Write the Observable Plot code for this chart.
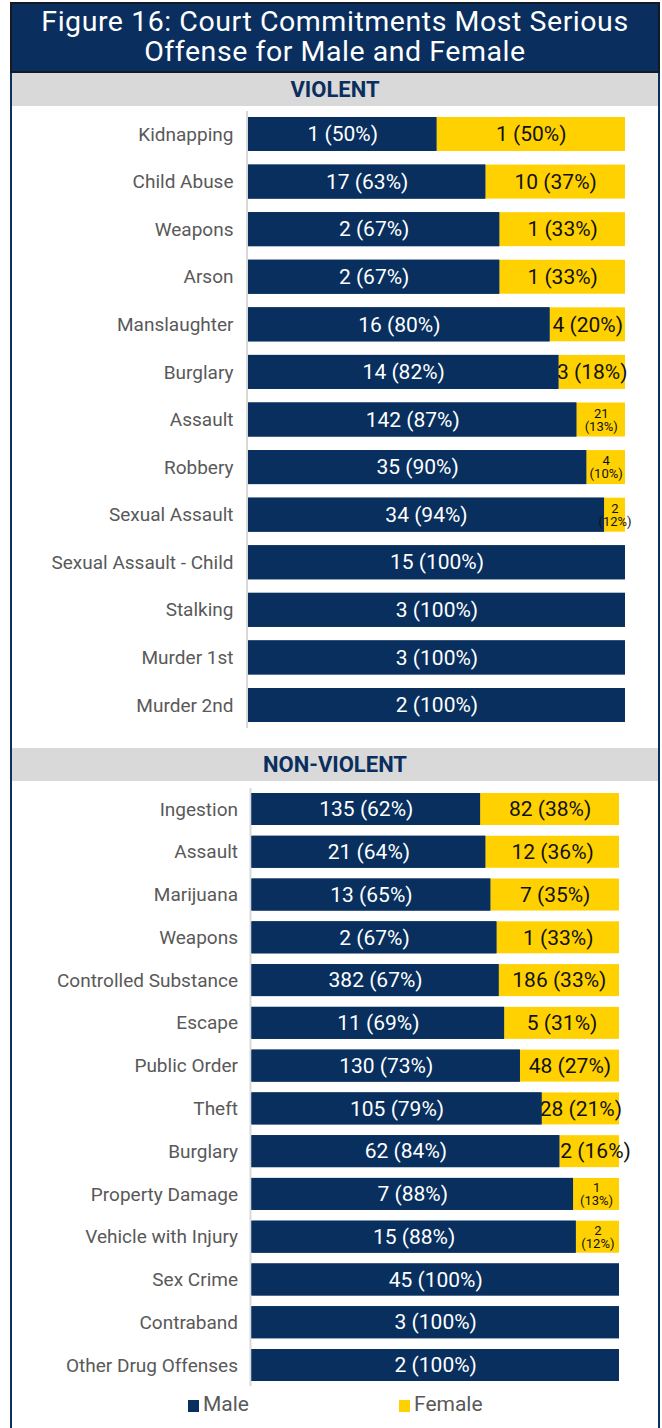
<!DOCTYPE html>
<html>
<head>
<meta charset="utf-8">
<script src="https://cdn.jsdelivr.net/npm/d3@7"></script>
<script src="https://cdn.jsdelivr.net/npm/@observablehq/plot@0.6"></script>
<style>
  html, body { margin: 0; padding: 0; background: #fff; font-family: Roboto, "Noto Sans", sans-serif; }
  #page { position: relative; width: 662px; height: 1428px; overflow: hidden; }
  #frame { position: absolute; left: 10px; top: 2px; width: 646px; height: 1440px;
           border-left: 2px solid #0b2f5e; border-right: 2px solid #0b2f5e; }
  #title { position: absolute; left: 10px; top: 2px; width: 650px; height: 71px; box-sizing: border-box;
           background: #0a2f5f; border: 2px solid #141a24; color: #fff; font-size: 28.5px; line-height: 30px;
           letter-spacing: 0.55px; text-align: center; padding-top: 3px; }
  .band { position: absolute; left: 12px; width: 646px; height: 33px; background: #d9d9d9;
          color: #0a2f5f; font-weight: bold; font-size: 22px; line-height: 33px; text-align: center; }
  .chart { position: absolute; left: 12px; }
  .chart svg { display: block; }
  #legend { position: absolute; left: 12px; top: 1391px; width: 646px; height: 26px; }
  .item { position: absolute; top: 0; height: 26px; line-height: 26px; font-size: 21px; color: #595959; }
  .sw { display: inline-block; width: 11px; height: 12px; margin-right: 4px; vertical-align: -1px; }
</style>
</head>
<body>
<div id="page">
  <div id="frame"></div>
  <div id="title">Figure 16: Court Commitments Most Serious<br>Offense for Male and Female</div>
  <div class="band" style="top:73px">VIOLENT</div>
  <div class="chart" id="violent" style="top:106px"></div>
  <div class="band" style="top:748px">NON-VIOLENT</div>
  <div class="chart" id="nonviolent" style="top:781px"></div>
  <div id="legend"></div>
</div>
<script>
// ---------- data ----------
const sexes = ["Male", "Female"];
const sexColors = ["#082f5e", "#ffd100"];

const violentOffenses = ["Kidnapping", "Child Abuse", "Weapons", "Arson", "Manslaughter", "Burglary", "Assault",
  "Robbery", "Sexual Assault", "Sexual Assault - Child", "Stalking", "Murder 1st", "Murder 2nd"];
const violentMale   = [1, 17, 2, 2, 16, 14, 142, 35, 34, 15, 3, 3, 2];
const violentFemale = [1, 10, 1, 1, 4, 3, 21, 4, 2, 0, 0, 0, 0];
const violentMalePct   = [50, 63, 67, 67, 80, 82, 87, 90, 94, 100, 100, 100, 100];
const violentFemalePct = [50, 37, 33, 33, 20, 18, 13, 10, 12, null, null, null, null];

const nonViolentOffenses = ["Ingestion", "Assault", "Marijuana", "Weapons", "Controlled Substance", "Escape",
  "Public Order", "Theft", "Burglary", "Property Damage", "Vehicle with Injury", "Sex Crime", "Contraband",
  "Other Drug Offenses"];
const nonViolentMale   = [135, 21, 13, 2, 382, 11, 130, 105, 62, 7, 15, 45, 3, 2];
const nonViolentFemale = [82, 12, 7, 1, 186, 5, 48, 28, 12, 1, 2, 0, 0, 0];
const nonViolentMalePct   = [62, 64, 65, 67, 67, 69, 73, 79, 84, 88, 88, 100, 100, 100];
const nonViolentFemalePct = [38, 36, 35, 33, 33, 31, 27, 21, 16, 13, 12, null, null, null];

// ---------- chart builder ----------
function buildChart(offenses, male, female, malePct, femalePct, cfg) {
  const rows = [];
  offenses.forEach((o, i) => {
    const total = male[i] + female[i];
    rows.push({offense: o, sex: "Male", count: male[i], pct: malePct[i], share: male[i] / total});
    rows.push({offense: o, sex: "Female", count: female[i], pct: femalePct[i], share: female[i] / total});
  });
  const st = (extra) => Plot.stackX({x: "count", y: "offense", z: "sex", order: sexes, offset: "normalize", ...extra});
  const isSmall = d => d.share < 0.14;
  return Plot.plot({
    width: 646,
    height: cfg.height,
    marginLeft: cfg.marginLeft,
    marginRight: cfg.marginRight,
    marginTop: cfg.marginTop,
    marginBottom: cfg.marginBottom,
    style: {fontFamily: "Roboto, sans-serif", color: "#595959", background: "transparent"},
    x: {domain: [0, 1], axis: null},
    y: {domain: offenses, paddingInner: cfg.pi, paddingOuter: cfg.po, round: false, label: null},
    color: {domain: sexes, range: sexColors},
    marks: [
      Plot.ruleX([0], {stroke: "#d9d9d9", strokeWidth: 2, dx: -1.5}),
      Plot.barX(rows, st({fill: "sex"})),
      Plot.text(rows, st({
        text: d => (d.sex === "Female" && d.count > 0 && !isSmall(d)) ? `${d.count} (${d.pct}%)` : "",
        fill: "#111", fontSize: 21
      })),
      Plot.barX(rows, st({fill: "sex", fillOpacity: d => d.sex === "Male" ? 1 : 0})),
      Plot.text(rows, st({
        text: d => (d.sex === "Female" && d.count > 0 && isSmall(d)) ? `${d.count}\n(${d.pct}%)` : "",
        fill: "#111", fontSize: 13, lineHeight: 1
      })),
      Plot.text(rows, st({
        text: d => d.sex === "Male" ? `${d.count} (${d.pct}%)` : "",
        fill: "#fff", fontSize: 21
      })),
      Plot.axisY({tickSize: 0, tickPadding: cfg.tickPadding, fontSize: 19, fill: "#595959", label: null})
    ]
  });
}

document.getElementById("violent").append(
  buildChart(violentOffenses, violentMale, violentFemale, violentMalePct, violentFemalePct,
    {height: 642, marginLeft: 236, marginRight: 33, marginTop: 5, marginBottom: 20, pi: 0.2855, po: 0.126, tickPadding: 15}));
document.getElementById("nonviolent").append(
  buildChart(nonViolentOffenses, nonViolentMale, nonViolentFemale, nonViolentMalePct, nonViolentFemalePct,
    {height: 609, marginLeft: 239.5, marginRight: 39, marginTop: 7, marginBottom: 4, pi: 0.252, po: 0.117, tickPadding: 14}));

// ---------- legend ----------
const legend = document.getElementById("legend");
const legendX = [176, 387];
sexes.forEach((s, i) => {
  const item = document.createElement("div");
  item.className = "item";
  item.style.left = legendX[i] + "px";
  const sw = document.createElement("span");
  sw.className = "sw";
  sw.style.background = sexColors[i];
  item.append(sw, document.createTextNode(s));
  legend.append(item);
});
</script>
</body>
</html>
